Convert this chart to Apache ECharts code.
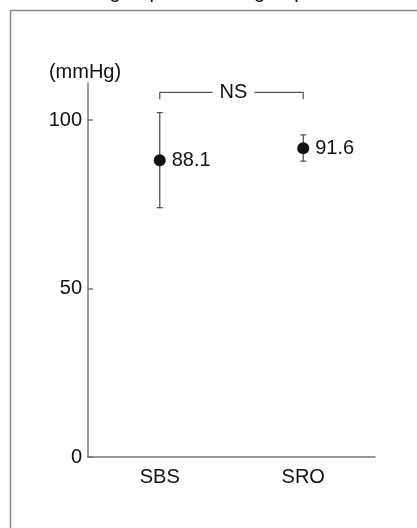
<!DOCTYPE html>
<html>
<head>
<meta charset="utf-8">
<script src="https://cdn.jsdelivr.net/npm/echarts@6/dist/echarts.min.js"></script>
<style>
html,body{margin:0;padding:0;background:#fff;}
#chart{width:417px;height:528px;}
</style>
</head>
<body>
<div id="chart"></div>
<script>
// ---- data ----
const categories = ['SBS', 'SRO'];
const means = [88.1, 91.6];
const lows = [74.0, 87.8];
const highs = [102.2, 95.6];
const yMin = 0;
const yMax = 111;
const yInterval = 50;
const bracketFrom = 0;
const bracketTo = 1;
const bracketLevels = [108.2, 106.2]; // top line, end of drops
const bracketText = 'NS';
const yAxisName = '(mmHg)';
const topText = 'SBS group and SRO group';

const FONT = '"Liberation Sans", Arial, Helvetica, sans-serif';
const TEXT = '#111';
const AXIS = '#777';

const chart = echarts.init(document.getElementById('chart'), null, {renderer: 'canvas'});

const errData = categories.map((c, i) => [i, lows[i], highs[i]]);
const pointData = categories.map((c, i) => [i, means[i]]);
const bracketData = [[bracketFrom, bracketTo, bracketLevels[0], bracketLevels[1]]];

chart.setOption({
  animation: false,
  backgroundColor: '#fff',
  textStyle: {fontFamily: FONT},
  grid: {left: 88, right: 42, top: 83, bottom: 71, containLabel: false},
  graphic: [
    {type: 'line', shape: {x1: 10, y1: 10.5, x2: 417, y2: 10.5}, style: {stroke: '#8a8a8a', lineWidth: 1.5}, silent: true},
    {type: 'line', shape: {x1: 10.5, y1: 10, x2: 10.5, y2: 528}, style: {stroke: '#8a8a8a', lineWidth: 1.5}, silent: true},
    {type: 'text', left: 64, top: -18, style: {text: topText, font: '20px ' + FONT, fill: TEXT}, silent: true}
  ],
  xAxis: {
    type: 'category',
    data: categories,
    boundaryGap: true,
    axisLine: {lineStyle: {color: AXIS, width: 1.5}},
    axisTick: {show: false},
    axisLabel: {color: TEXT, fontSize: 20, margin: 10, fontFamily: FONT},
    splitLine: {show: false}
  },
  yAxis: {
    type: 'value',
    min: yMin,
    max: yMax,
    interval: yInterval,
    name: yAxisName,
    nameLocation: 'end',
    nameGap: 1,
    nameTextStyle: {color: TEXT, fontSize: 20, fontFamily: FONT, padding: [0, 0, 0, -6]},
    axisLine: {show: true, lineStyle: {color: AXIS, width: 1.5}},
    axisTick: {show: true, inside: true, length: 5, lineStyle: {color: AXIS, width: 1.5}},
    axisLabel: {color: TEXT, fontSize: 20, margin: 6, fontFamily: FONT, showMaxLabel: false},
    splitLine: {show: false}
  },
  series: [
    {
      type: 'custom',
      name: 'error',
      data: errData,
      z: 2,
      renderItem: function (params, api) {
        const x = api.value(0);
        const lo = api.coord([x, api.value(1)]);
        const hi = api.coord([x, api.value(2)]);
        const cap = 3;
        const st = {stroke: '#555', lineWidth: 1.3};
        return {
          type: 'group',
          children: [
            {type: 'line', shape: {x1: lo[0], y1: lo[1], x2: hi[0], y2: hi[1]}, style: st},
            {type: 'line', shape: {x1: lo[0] - cap, y1: lo[1], x2: lo[0] + cap, y2: lo[1]}, style: st},
            {type: 'line', shape: {x1: hi[0] - cap, y1: hi[1], x2: hi[0] + cap, y2: hi[1]}, style: st}
          ]
        };
      }
    },
    {
      type: 'scatter',
      name: 'mean',
      data: pointData,
      z: 3,
      symbol: 'circle',
      symbolSize: 12,
      itemStyle: {color: '#111', opacity: 1},
      label: {
        show: true,
        position: 'right',
        distance: 6,
        color: TEXT,
        fontSize: 20,
        fontFamily: FONT,
        formatter: function (p) { return p.value[1].toFixed(1); }
      }
    },
    {
      type: 'custom',
      name: 'bracket',
      data: bracketData,
      z: 2,
      renderItem: function (params, api) {
        const a = api.coord([api.value(0), api.value(2)]);
        const b = api.coord([api.value(1), api.value(2)]);
        const aEnd = api.coord([api.value(0), api.value(3)]);
        const bEnd = api.coord([api.value(1), api.value(3)]);
        const st = {stroke: '#555', lineWidth: 1.2, fill: null};
        const mid = (a[0] + b[0]) / 2 + 2;
        return {
          type: 'group',
          children: [
            {type: 'polyline', shape: {points: [[aEnd[0], aEnd[1]], [a[0], a[1]], [b[0], b[1]], [bEnd[0], bEnd[1]]]}, style: st},
            {type: 'text', x: mid, y: a[1], style: {text: bracketText, font: '20px ' + FONT, fill: TEXT, align: 'center', verticalAlign: 'middle', backgroundColor: '#fff', padding: [0, 7]}}
          ]
        };
      }
    }
  ]
});
</script>
</body>
</html>
